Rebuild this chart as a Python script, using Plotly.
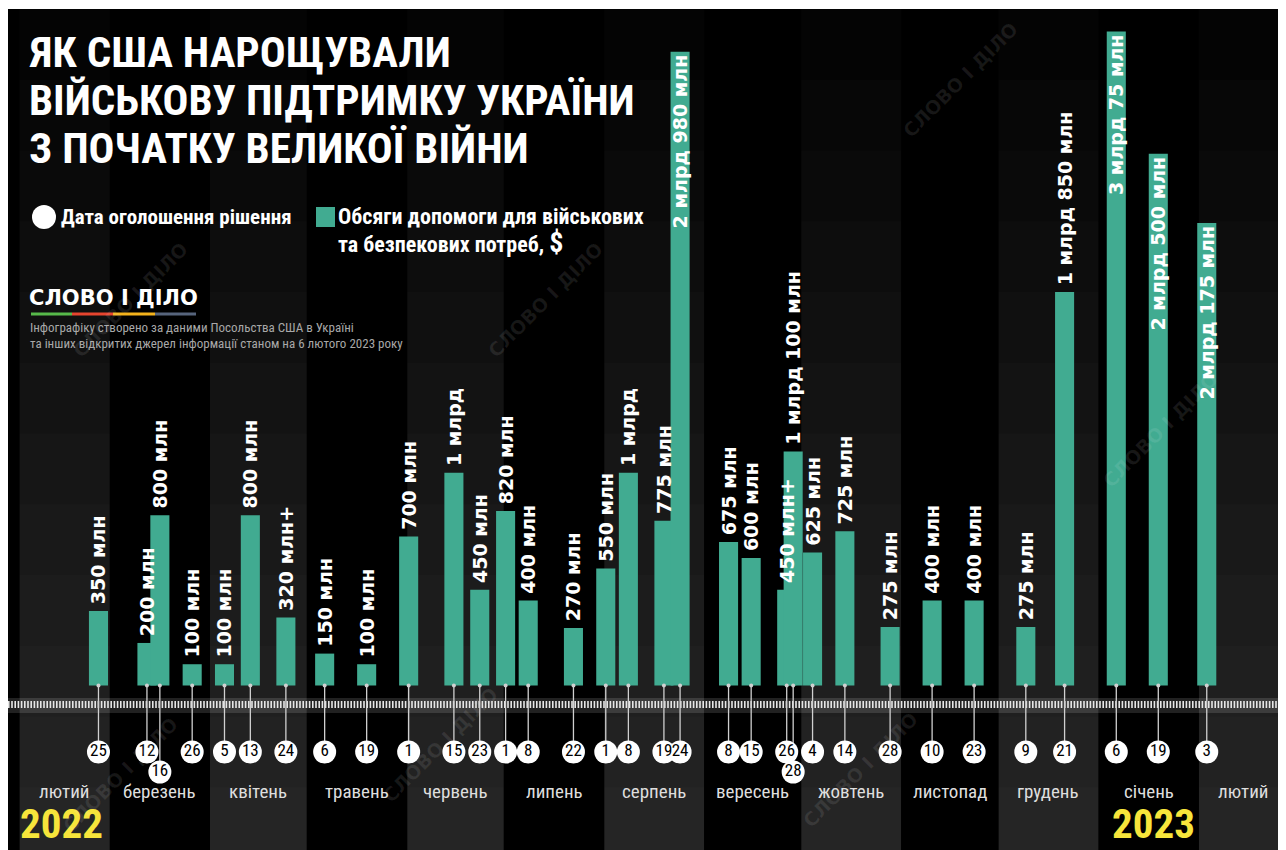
import plotly.graph_objects as go
from datetime import datetime, timedelta

# ---------------- data ----------------
dates = ["2022-02-25", "2022-03-12", "2022-03-16", "2022-03-26", "2022-04-05", "2022-04-13",
         "2022-04-24", "2022-05-06", "2022-05-19", "2022-06-01", "2022-06-15", "2022-06-23",
         "2022-07-01", "2022-07-08", "2022-07-22", "2022-08-01", "2022-08-08", "2022-08-19",
         "2022-08-24", "2022-09-08", "2022-09-15", "2022-09-26", "2022-09-28", "2022-10-04",
         "2022-10-14", "2022-10-28", "2022-11-10", "2022-11-23", "2022-12-09", "2022-12-21",
         "2023-01-06", "2023-01-19", "2023-02-03"]
values = [350, 200, 800, 100, 100, 800, 320, 150, 100, 700, 1000, 450, 820, 400, 270, 550,
          1000, 775, 2980, 675, 600, 450, 1100, 625, 725, 275, 400, 400, 275, 1850, 3075,
          2500, 2175]
labels = ["350 млн", "200 млн", "800 млн", "100 млн", "100 млн", "800 млн", "320 млн+",
          "150 млн", "100 млн", "700 млн", "1 млрд", "450 млн", "820 млн", "400 млн",
          "270 млн", "550 млн", "1 млрд", "775 млн", "2 млрд 980 млн", "675 млн", "600 млн",
          "450 млн+", "1 млрд 100 млн", "625 млн", "725 млн", "275 млн", "400 млн",
          "400 млн", "275 млн", "1 млрд 850 млн", "3 млрд 75 млн", "2 млрд 500 млн",
          "2 млрд 175 млн"]
month_names = ["лютий", "березень", "квітень", "травень", "червень", "липень", "серпень",
               "вересень", "жовтень", "листопад", "грудень", "січень", "лютий"]
month_starts = ["2022-02-01", "2022-03-01", "2022-04-01", "2022-05-01", "2022-06-01",
                "2022-07-01", "2022-08-01", "2022-09-01", "2022-10-01", "2022-11-01",
                "2022-12-01", "2023-01-01", "2023-02-01", "2023-03-01"]
years = ["2022", "2023"]
title_lines = ["ЯК США НАРОЩУВАЛИ", "ВІЙСЬКОВУ ПІДТРИМКУ УКРАЇНИ", "З ПОЧАТКУ ВЕЛИКОЇ ВІЙНИ"]
legend_date = "Дата оголошення рішення"
legend_bar = ["Обсяги допомоги для військових", "та безпекових потреб, "]
logo_text = "СЛОВО І ДІЛО"
source_lines = ["Інфографіку створено за даними Посольства США в Україні",
                "та інших відкритих джерел інформації станом на 6 лютого 2023 року"]
watermark = "СЛОВО І ДІЛО"

# ---------------- geometry / style ----------------
# positions below are given in page pixels (the page body adds an 8px offset)
W, H = 1286, 850
OFF = 8
T = 1
PH = H - T
BASE = 685.5          # page y of bar baseline
K = 654 / 3075.0      # px per million


def X(px):
    return (px - OFF) / W


def Y(py):
    return (H - (py - OFF)) / PH


def V(py):
    return (BASE - py) / K


NARROW = "Liberation Sans Narrow, Roboto Condensed, Arial Narrow, DejaVu Sans Condensed, sans-serif"
BOLDF = "DejaVu Sans, Verdana, sans-serif"
GREEN = "#41ab91"

dt = [datetime.strptime(d, "%Y-%m-%d") + timedelta(hours=12) for d in dates]
n = len(dt)
BW = 5.9 * 86400000

fig = go.Figure()

# bars
fig.add_trace(go.Bar(x=dt, y=values, width=[BW] * n,
                     marker=dict(color=GREEN, line=dict(width=0)), hoverinfo="skip"))
pos = ["inside" if v > 2000 else "outside" for v in values]
txt = [l if p == "inside" else "\u2009" + l for l, p in zip(labels, pos)]
fig.add_trace(go.Bar(x=dt, y=values, width=[BW] * n,
                     marker=dict(color="rgba(0,0,0,0)", line=dict(width=0)),
                     text=txt, textposition=pos, textangle=-90, insidetextanchor="end",
                     textfont=dict(family=BOLDF, size=19, color="white", weight="bold"),
                     constraintext="none", cliponaxis=False, hoverinfo="skip"))

# stems + circles
low = [i > 0 and (dt[i] - dt[i - 1]).days <= 4 for i in range(n)]
cy = [V(772) if lw else V(752) for lw in low]
sx, sy = [], []
for x, c in zip(dt, cy):
    sx += [x, x, None]
    sy += [0, c, None]
fig.add_trace(go.Scatter(x=sx, y=sy, mode="lines", line=dict(color="#d0d0d0", width=1.3),
                         hoverinfo="skip"))
fig.add_trace(go.Scatter(x=dt, y=[0] * n, mode="markers",
                         marker=dict(size=4, color="#d0d0d0"), hoverinfo="skip"))
fig.add_trace(go.Scatter(x=dt, y=cy, mode="markers+text",
                         marker=dict(size=23, color="white", line=dict(width=0)),
                         text=[str(d.day) for d in dt], textposition="middle center",
                         textfont=dict(family=NARROW, size=17, color="black"),
                         hoverinfo="skip"))

shapes = []
# month bands with stepped gradient
ms = [datetime.strptime(m, "%Y-%m-%d") for m in month_starts]
for i in range(len(month_names)):
    if i % 2 == 0:
        for k in range(1, 13):
            shapes.append(dict(type="rect", xref="x", yref="paper", x0=ms[i], x1=ms[i + 1],
                               y0=0, y1=k / 12.0, fillcolor="rgba(255,255,255,0.016)",
                               line=dict(width=0), layer="below"))
# ruler strip
shapes.append(dict(type="rect", xref="paper", yref="y", x0=0, x1=1, y0=V(713), y1=V(698),
                   fillcolor="rgba(255,255,255,0.13)", line=dict(width=0), layer="below"))
shapes.append(dict(type="line", xref="paper", yref="y", x0=0, x1=1, y0=V(704.5), y1=V(704.5),
                   line=dict(color="#e6e6e6", width=7, dash="1.6px,1.6px"), layer="below"))

# legend marks
shapes.append(dict(type="circle", xref="paper", yref="paper", x0=X(32), x1=X(56),
                   y0=Y(229), y1=Y(205), fillcolor="white", line=dict(width=0)))
shapes.append(dict(type="rect", xref="paper", yref="paper", x0=X(316), x1=X(335),
                   y0=Y(227), y1=Y(207), fillcolor=GREEN, line=dict(width=0)))
# logo stripes
for c, (a, b) in zip(["#57b94a", "#e6452f", "#f3b21c", "#56647c"],
                     [(31, 72), (72, 113), (113, 155), (155, 196)]):
    shapes.append(dict(type="rect", xref="paper", yref="paper", x0=X(a), x1=X(b),
                       y0=Y(315.5), y1=Y(312.5), fillcolor=c, line=dict(width=0)))

ann = []
# title
for line, py in zip(title_lines, [52, 100, 148]):
    ann.append(dict(text=line, xref="paper", yref="paper", x=X(27), y=Y(py),
                    xanchor="left", yanchor="middle", showarrow=False,
                    font=dict(family=NARROW, size=43, color="white", weight="bold")))
# legend texts
ann.append(dict(text=legend_date, xref="paper", yref="paper", x=X(59), y=Y(217),
                xanchor="left", yanchor="middle", showarrow=False,
                font=dict(family=NARROW, size=21, color="white", weight="bold")))
ann.append(dict(text=legend_bar[0], xref="paper", yref="paper", x=X(336), y=Y(217),
                xanchor="left", yanchor="middle", showarrow=False,
                font=dict(family=NARROW, size=22, color="white", weight="bold")))
ann.append(dict(text=legend_bar[1] + "<span style='font-size:28px'>$</span>",
                xref="paper", yref="paper", x=X(336), y=Y(243),
                xanchor="left", yanchor="middle", showarrow=False,
                font=dict(family=NARROW, size=22, color="white", weight="bold")))
# logo + source
ann.append(dict(text=logo_text, xref="paper", yref="paper", x=X(27), y=Y(298),
                xanchor="left", yanchor="middle", showarrow=False,
                font=dict(family=BOLDF, size=21, color="white", weight="bold")))
for line, py in zip(source_lines, [327, 343]):
    ann.append(dict(text=line, xref="paper", yref="paper", x=X(28), y=Y(py),
                    xanchor="left", yanchor="middle", showarrow=False,
                    font=dict(family=NARROW, size=13, color="#a8a8a8")))
# month labels
for i, name in enumerate(month_names):
    mid = ms[i] + (ms[i + 1] - ms[i]) / 2
    ann.append(dict(text=name, x=mid, y=V(791), xref="x", yref="y", showarrow=False,
                    xanchor="center", yanchor="middle",
                    font=dict(family=NARROW, size=19, color="#dedede")))
# years
for yr, xd in zip(years, [datetime(2022, 2, 14), datetime(2023, 1, 18)]):
    ann.append(dict(text=yr, x=xd, y=V(824), xref="x", yref="y", showarrow=False,
                    xanchor="center", yanchor="middle",
                    font=dict(family=NARROW, size=41, color="#f7e53b", weight="bold")))
# watermarks
for px, py in [(130, 300), (545, 300), (960, 80), (1160, 430), (120, 775), (440, 745), (860, 770)]:
    ann.append(dict(text=watermark, xref="paper", yref="paper", x=X(px), y=Y(py),
                    showarrow=False, textangle=-45, xanchor="center", yanchor="middle",
                    font=dict(family=BOLDF, size=19, color="rgba(255,255,255,0.09)",
                              weight="bold")))

fig.update_layout(
    width=W, height=H, margin=dict(l=0, r=0, t=T, b=0),
    paper_bgcolor="white", plot_bgcolor="black",
    barmode="overlay", showlegend=False,
    xaxis=dict(type="date", range=["2022-01-28 12:00", "2023-03-02 12:00"], visible=False,
               fixedrange=True),
    yaxis=dict(range=[V(H + OFF), V(T + OFF)], visible=False, fixedrange=True),
    shapes=shapes, annotations=ann,
)
fig.write_html("out.html")
